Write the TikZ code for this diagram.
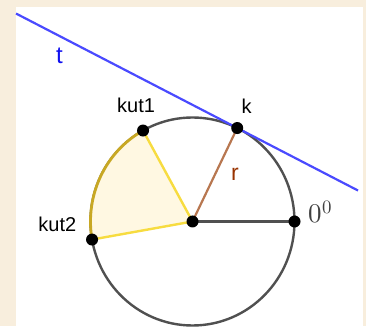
\documentclass[tikz,border=0pt]{standalone}
\usepackage{fontspec}
\setmainfont{Liberation Sans}
\usepackage{unicode-math}
\setmathfont{Latin Modern Math}
\usetikzlibrary{calc}
\definecolor{beige}{HTML}{F8EEDD}
\definecolor{circgray}{HTML}{505050}
\definecolor{secfill}{HTML}{FFF8E2}
\definecolor{secline}{HTML}{F7DC40}
\definecolor{arcgold}{HTML}{C8A824}
\definecolor{rbrown}{HTML}{B87750}
\definecolor{tblue}{HTML}{4A4AFF}
\definecolor{ltblue}{HTML}{1010F0}
\definecolor{lblbrown}{HTML}{993300}
\definecolor{zgray}{HTML}{404040}
\tikzset{
  pt/.style={circle,fill=black,inner sep=0pt,minimum size=12pt},
  lbl/.style={inner sep=0pt,font=\fontsize{20}{22}\selectfont},
}
\begin{document}
\begin{tikzpicture}[x=1pt,y=1pt]
\useasboundingbox (0,0) rectangle (366,326);
\fill[beige] (0,0) rectangle (366,326);
\fill[white] (16,0) rectangle (362.5,319);
\coordinate (C) at (192.5,104.5);
\coordinate (Z) at ($(C)+(0:102 and 104)$);
\coordinate (K) at ($(C)+(64:102 and 104)$);
\coordinate (A1) at ($(C)+(119:102 and 104)$);
\coordinate (A2) at ($(C)+(190:102 and 104)$);
% circle
\draw[circgray,line width=2.4pt] (C) ellipse [x radius=102, y radius=104];
% sector
\fill[secfill] (C) -- (A1) arc [start angle=119, end angle=190, x radius=102, y radius=104] -- cycle;
\draw[arcgold,line width=2.8pt] (A1) arc [start angle=119, end angle=190, x radius=102, y radius=104];
\draw[secline,line width=2.4pt] (A1) -- (C) -- (A2);
% radii
\draw[rbrown,line width=2.2pt] (C) -- (K);
\draw[circgray,line width=2.4pt] (C) -- (Z);
% tangent
\coordinate (T1) at ($(K)+(-221.2,114.5)$);
\coordinate (T2) at ($(K)+(120.8,-62.5)$);
\draw[tblue,line width=2.2pt] (T1) -- (T2);
% points
\node[pt] (c) at (C) {};
\node[pt] (z) at (Z) {};
\node[pt] (k) at (K) {};
\node[pt] (a1) at (A1) {};
\node[pt] (a2) at (A2) {};
% labels
\node[lbl,anchor=base west,text=ltblue,font=\fontsize{24}{26}\selectfont] (lt) at (56,262) {t};
\node[lbl,anchor=base west] (lkut1) at (117,213) {kut1};
\node[lbl,anchor=base west] (lk) at (241.5,212) {k};
\node[lbl,anchor=base west,text=lblbrown,font=\fontsize{23}{25}\selectfont] (lr) at (231,145) {r};
\node[lbl,anchor=base east] (lkut2) at (76.5,94) {kut2};
\node[lbl,anchor=base west,text=zgray,font=\fontsize{27}{29}\selectfont] (lz) at (308.5,103) {$0^0$};
\end{tikzpicture}
\end{document}
